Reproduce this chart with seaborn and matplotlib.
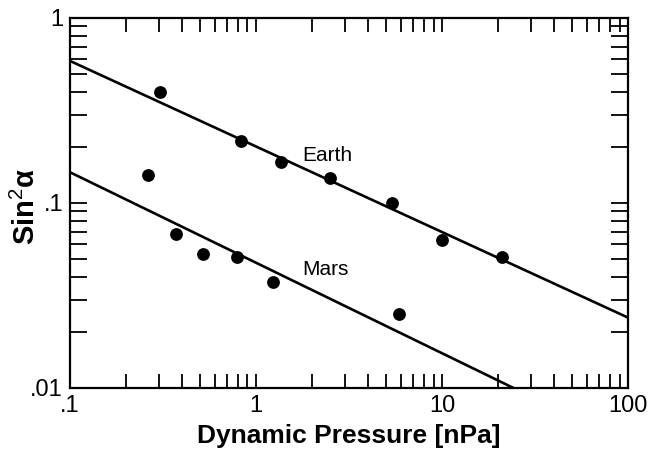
import matplotlib
matplotlib.use("Agg")
import matplotlib.pyplot as plt
from matplotlib import font_manager
import seaborn as sns
import pandas as pd

# ---- data ----
earth_p = [0.305, 0.83, 1.36, 2.5, 5.36, 9.95, 20.9]
earth_s = [0.398, 0.216, 0.167, 0.136, 0.1004, 0.063, 0.0513]
mars_p = [0.264, 0.372, 0.519, 0.794, 1.23, 5.87]
mars_s = [0.141, 0.0678, 0.0528, 0.0508, 0.0373, 0.025]
earth_fit_p = [0.1, 100]
earth_fit_s = [0.586, 0.024]
mars_fit_p = [0.1, 24.2]
mars_fit_s = [0.1466, 0.01]
x_ticks = [0.1, 1, 10, 100]
x_tick_labels = [".1", "1", "10", "100"]
y_ticks = [0.01, 0.1, 1]
y_tick_labels = [".01", ".1", "1"]

sns.set_style("ticks")
names = {f.name for f in font_manager.fontManager.ttflist}
base = "Liberation Sans" if "Liberation Sans" in names else "DejaVu Sans"
plt.rcParams["font.family"] = [base, "DejaVu Sans"]
plt.rcParams["mathtext.fontset"] = "custom"
plt.rcParams["mathtext.rm"] = base
plt.rcParams["mathtext.it"] = base + ":italic"
plt.rcParams["text.color"] = "black"
plt.rcParams["axes.labelcolor"] = "black"

fig = plt.figure(figsize=(6.57, 4.49), dpi=100)
ax = fig.add_axes([0.1065, 0.1359, 0.8495, 0.8241])

pts = pd.concat([
    pd.DataFrame({"p": earth_p, "s": earth_s, "planet": "Earth"}),
    pd.DataFrame({"p": mars_p, "s": mars_s, "planet": "Mars"}),
])
fits = pd.concat([
    pd.DataFrame({"p": earth_fit_p, "s": earth_fit_s, "planet": "Earth"}),
    pd.DataFrame({"p": mars_fit_p, "s": mars_fit_s, "planet": "Mars"}),
])

sns.lineplot(data=fits, x="p", y="s", units="planet", estimator=None,
             color="black", linewidth=1.9, ax=ax, legend=False)
sns.scatterplot(data=pts, x="p", y="s", color="black", s=85,
                edgecolor="black", linewidth=0, ax=ax, legend=False, zorder=3)

ax.set_xscale("log")
ax.set_yscale("log")
ax.set_xlim(0.1, 100)
ax.set_ylim(0.01, 1)
ax.set_xticks(x_ticks, x_tick_labels)
ax.set_yticks(y_ticks, y_tick_labels)

for sp in ax.spines.values():
    sp.set_visible(True)
    sp.set_linewidth(1.6)
    sp.set_color("black")

ax.tick_params(which="both", direction="in", top=True, right=True,
               width=1.3, color="black", labelsize=17, labelcolor="black")
ax.tick_params(which="major", length=10, pad=5)
ax.tick_params(which="minor", length=10)
ax.tick_params(axis="y", which="both", length=12)

ax.set_xlabel("Dynamic Pressure [nPa]", fontsize=19, fontweight="bold",
              labelpad=5, color="black")
ax.set_ylabel(r"Sin$^{\mathrm{2}}$α", fontsize=21, fontweight="bold",
              color="black")
ax.yaxis.set_label_coords(-0.052, 0.49)

ax.text(1.77, 0.1815, "Earth", fontsize=15, ha="left", va="center", color="black")
ax.text(1.77, 0.0435, "Mars", fontsize=15, ha="left", va="center", color="black")

fig.savefig("out.png", dpi=100)
